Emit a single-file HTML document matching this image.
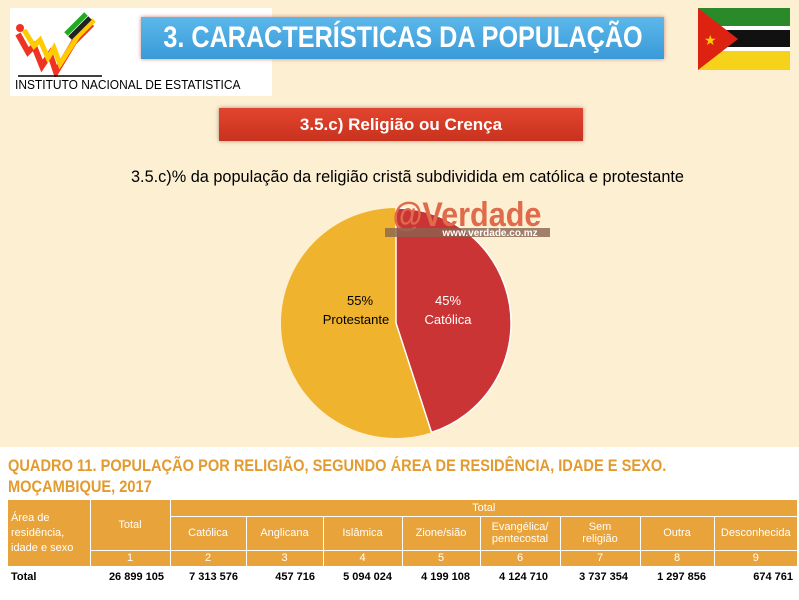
<!DOCTYPE html>
<html><head><meta charset="utf-8"><style>
body{margin:0;width:799px;height:600px;overflow:hidden;background:#fff;font-family:"Liberation Sans",sans-serif;position:relative}
.abs{position:absolute}
table{border-collapse:collapse;font-family:"Liberation Sans",sans-serif;font-size:11px}
</style></head><body>
<div class="abs" style="left:0;top:0;width:799px;height:447px;background:#fcefd2"></div>
<div class="abs" style="left:10px;top:8px;width:262px;height:88px;background:#fff"></div>
<svg class="abs" style="left:14px;top:12px" width="90" height="65" viewBox="0 0 90 65">
<path d="M4,22 L14,40 L20,34 L28,54 L36,42 L42,60 L60,30 L78,12" stroke="#e32" stroke-width="6" fill="none"/>
<path d="M10,18 L20,34 L26,28 L34,46 L40,36 L46,52 L64,24 L80,8" stroke="#fc0" stroke-width="5" fill="none"/>
<path d="M56,26 L76,6" stroke="#222" stroke-width="5"/><path d="M52,22 L72,2" stroke="#2a2" stroke-width="5"/>
<circle cx="6" cy="16" r="4" fill="#e32"/><line x1="4" y1="64" x2="88" y2="64" stroke="#000" stroke-width="1.5"/>
</svg>
<div class="abs" style="left:15px;top:77px;font-size:13px;color:#000;transform:scaleX(0.92);transform-origin:left">INSTITUTO NACIONAL DE ESTATISTICA</div>
<div class="abs" style="left:141px;top:17px;width:523px;height:42px;background:linear-gradient(#5cb8ea,#3a9ad8);box-shadow:0 0 4px #c87;color:#fff;font-size:30px;font-weight:bold;line-height:42px;white-space:nowrap;overflow:hidden"><span style="position:absolute;left:50%;top:0;transform:translateX(-50%) scaleX(0.84)">3. CARACTERÍSTICAS DA POPULAÇÃO</span></div>
<svg class="abs" style="left:698px;top:8px" width="92" height="62"><rect width="92" height="18" fill="#2a8a2a"/><rect y="18" width="92" height="4" fill="#fff"/><rect y="22" width="92" height="17" fill="#111"/><rect y="39" width="92" height="4" fill="#fff"/><rect y="43" width="92" height="19" fill="#f6d21a"/><polygon points="0,0 40,31 0,62" fill="#d21"/><text x="6" y="37" font-size="14" fill="#fc0">★</text></svg>
<div class="abs" style="left:219px;top:108px;width:364px;height:33px;background:linear-gradient(#e2452f,#c8321e);box-shadow:0 0 4px #a87;color:#fff;font-size:17px;font-weight:bold;text-align:center;line-height:33px">3.5.c) Religião ou Crença</div>
<div class="abs" style="left:131px;top:168px;font-size:16.3px;color:#000;white-space:nowrap">3.5.c)% da população da religião cristã subdividida em católica e protestante</div>
<svg class="abs" style="left:0;top:0" width="799" height="447">
<circle cx="396" cy="323" r="115" fill="#efb32d"/>
<path d="M396,323 L396,208 A115,115 0 0 1 431.5,432.4 Z" fill="#cb3434" stroke="#fff" stroke-width="1.5"/>
<text x="467" y="226" font-family="Liberation Sans" font-weight="bold" font-size="34" fill="#e06a4c" text-anchor="middle" transform="translate(467,0) scale(0.9,1) translate(-467,0)">@Verdade</text>
<rect x="385" y="228" width="165" height="9" fill="#8a6450" opacity="0.8"/>
<text x="490" y="236" font-family="Liberation Sans" font-weight="bold" font-size="10" fill="#fff" text-anchor="middle">www.verdade.co.mz</text>
<text x="360" y="305" font-size="13" text-anchor="middle" font-family="Liberation Sans">55%</text>
<text x="356" y="324" font-size="13" text-anchor="middle" font-family="Liberation Sans">Protestante</text>
<text x="448" y="305" font-size="13" fill="#fff" text-anchor="middle" font-family="Liberation Sans">45%</text>
<text x="448" y="324" font-size="13" fill="#fff" text-anchor="middle" font-family="Liberation Sans">Católica</text>
</svg>
<div class="abs" style="left:8px;top:455px;font-size:17px;font-weight:bold;color:#e39a2e;line-height:21px;white-space:nowrap;transform:scaleX(0.86);transform-origin:left">QUADRO 11. POPULAÇÃO POR RELIGIÃO, SEGUNDO ÁREA DE RESIDÊNCIA, IDADE E SEXO.<br>MOÇAMBIQUE, 2017</div>
<table class="abs" style="left:8px;top:500px;width:789px;color:#fff;background:#e8a33a">
<colgroup><col style="width:82px"><col style="width:80px"><col style="width:76px"><col style="width:77px"><col style="width:79px"><col style="width:78px"><col style="width:80px"><col style="width:80px"><col style="width:74px"><col style="width:83px"></colgroup>
<tr style="height:16px"><td rowspan="3" style="border-right:1px solid #fff;padding-left:3px;line-height:15px">Área de<br>residência,<br>idade e sexo</td><td rowspan="2" style="text-align:center;border-right:1px solid #fff">Total</td><td colspan="8" style="text-align:center;border-bottom:1px solid #fff">Total</td></tr>
<tr style="height:34px;text-align:center"><td style="border-right:1px solid #fff">Católica</td><td style="border-right:1px solid #fff">Anglicana</td><td style="border-right:1px solid #fff">Islâmica</td><td style="border-right:1px solid #fff">Zione/sião</td><td style="border-right:1px solid #fff">Evangélica/<br>pentecostal</td><td style="border-right:1px solid #fff">Sem<br>religião</td><td style="border-right:1px solid #fff">Outra</td><td>Desconhecida</td></tr>
<tr style="height:16px;text-align:center;border-top:1px solid #fff"><td style="border-right:1px solid #fff">1</td><td style="border-right:1px solid #fff">2</td><td style="border-right:1px solid #fff">3</td><td style="border-right:1px solid #fff">4</td><td style="border-right:1px solid #fff">5</td><td style="border-right:1px solid #fff">6</td><td style="border-right:1px solid #fff">7</td><td style="border-right:1px solid #fff">8</td><td>9</td></tr>
<tr style="height:22px;background:#fff;color:#000;font-weight:bold;text-align:right"><td style="text-align:left;padding-left:3px">Total</td><td style="padding-right:6px">26 899 105</td><td style="padding-right:8px">7 313 576</td><td style="padding-right:8px">457 716</td><td style="padding-right:10px">5 094 024</td><td style="padding-right:10px">4 199 108</td><td style="padding-right:12px">4 124 710</td><td style="padding-right:12px">3 737 354</td><td style="padding-right:8px">1 297 856</td><td style="padding-right:4px">674 761</td></tr>
</table>
</body></html>
